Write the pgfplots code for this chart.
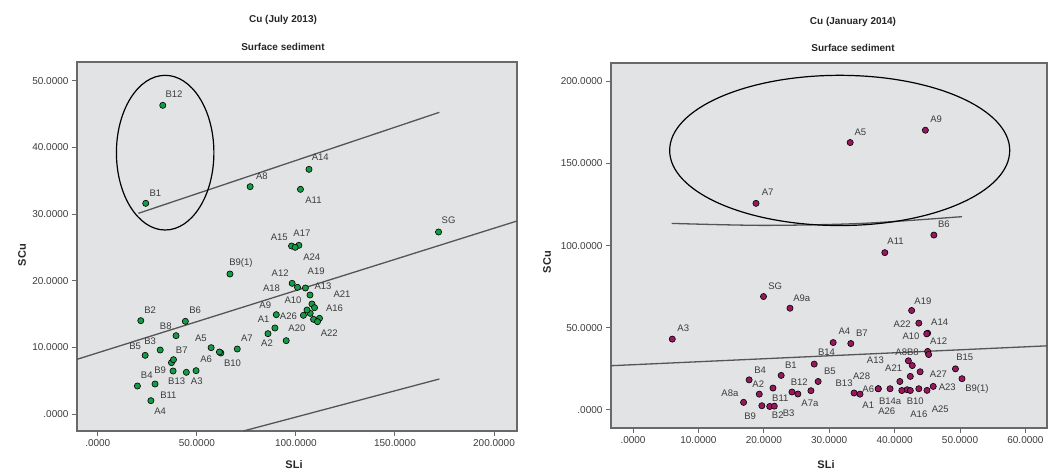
\documentclass[border=0pt]{standalone}
\usepackage{pgfplots}
\pgfplotsset{compat=1.18}
\usepackage{pgfplotstable}
\usepackage{fontspec}
\setmainfont{Liberation Sans}
\definecolor{bg}{RGB}{226,227,229}
\definecolor{frame}{RGB}{105,105,105}
\definecolor{reg}{RGB}{85,85,85}
\definecolor{ptgreen}{RGB}{20,155,70}
\definecolor{ptpurple}{RGB}{150,25,95}
\definecolor{lbl}{RGB}{60,60,60}

\pgfplotstableread{
x y label dx dy
32.8 46.3 B12 11.3 11
24.2 31.6 B1 9.7 10
76.9 34.1 A8 11.7 10.7
106.6 36.7 A14 11.3 12
102.3 33.7 A11 13 -10.7
172.0 27.3 SG 10 11.3
97.8 25.2 A15 -12.3 8.7
101.5 25.3 A17 3 12
99.6 25.0 A24 16.7 -10
66.7 21.0 B9(1) 11 11
98.1 19.6 A12 -12 10
100.8 19.0 A18 -26 -1
104.8 18.9 A19 10.7 17
107.1 17.85 A13 13 9
108.1 16.5 A21 30 10
109.4 15.95 A16 20 -0.7
105.6 15.6 A10 -14 10
103.8 14.8 A26 -15 -0.7
90.1 14.9 A9 -11 9.7
89.4 12.9 A1 -11.3 9
85.9 12.05 A2 -1 -9.7
95.1 11.0 A20 10.7 12
110.9 13.85 A22 11.7 -11.7
70.4 9.75 A7 9.7 10.7
62.1 9.15 B10 11.7 -10.3
61.4 9.3 A6 -13.3 -7
57.2 9.95 A5 -10.3 9.3
21.7 14.0 B2 9.3 10.7
44.2 13.9 B6 9.7 10.7
39.5 11.75 B8 -10.3 9
23.9 8.8 B5 -10 8.7
31.5 9.6 B3 -10 8.3
38.2 8.15 B7 8.3 9.7
38.0 6.45 B9 -13 0.3
44.7 6.25 B13 -9.7 -9.3
49.6 6.5 A3 0.7 -11
20.0 4.2 B4 9.3 11
28.9 4.5 B11 13.3 -11
26.8 2.0 A4 9.3 -11
}\leftdata

\pgfplotstableread{
x y label dx dy
18.8 125.7 A7 11.7 10.7
19.95 69.0 SG 11.7 10.7
33.2 162.7 A5 10.3 10.7
44.7 170.2 A9 10.7 10.7
46.0 106.4 B6 10 11
38.5 95.7 A11 10.7 11
24.0 61.9 A9a 11.7 10
42.6 60.5 A19 11.3 9
6.0 43.1 A3 11 11
43.7 52.8 A22 -16.7 -0.7
45.05 46.7 A14 12 10.7
44.9 46.3 A10 -15.7 -2.7
30.6 41.0 A4 11.3 11
33.3 40.4 B7 11 10.3
45.05 35.6 A12 11 10
45.2 33.7 A8B8 -21.6 2.5
27.7 27.9 B14 12.3 11.7
22.65 21.0 B1 9.7 10
17.75 18.3 B4 11 10
28.3 17.3 B5 11.7 10.7
19.3 9.6 A2 -1 10.3
21.4 13.3 B11 7.3 -10
24.3 10.9 B12 7.3 9.7
27.2 11.7 A7a -1 -12.3
16.9 4.6 A8a -13.7 9
19.7 2.55 B9 -11.7 -10.7
20.9 2.1 B2 8 -8.3
21.6 2.3 B3 14.4 -6.7
33.8 10.3 B13 -10 9.5
34.7 9.6 A1 8.3 -10.7
37.5 12.9 A28 -16.7 12.3
37.5 12.9 A6 -10 -1
39.3 12.9 A26 -3.3 -22.7
41.1 11.8 B14a -11.7 -11
42.4 11.8 B10 5 -11
43.7 12.9 A16 0 -26
44.95 11.9 A25 13.3 -19.3
45.9 14.3 A23 14 -0.7
42.4 20.4 A21 -16.7 8.3
43.9 23.2 A27 18.3 -2
42.1 29.9 A13 -33 0.7
49.3 25.0 B15 9.3 11.7
50.3 19.0 B9(1) 15 -10.3
}\rightdata

\pgfplotsset{
  spssaxis/.style={
    scale only axis, clip=false,
    axis background/.style={fill=bg},
    axis line style={frame, line width=1.2pt},
    tick pos=left, tick align=outside,
    major tick length=5pt,
    tick style={frame, line width=1pt},
    ticklabel style={font=\fontsize{10}{12}\selectfont, text=lbl},
  },
  lblnodes/.style={
    nodes near coords, point meta=explicit symbolic,
    visualization depends on={\thisrow{dx}\as\ldx},
    visualization depends on={\thisrow{dy}\as\ldy},
    every node near coord/.append style={anchor=center, xshift=\ldx, yshift=\ldy,
      font=\fontsize{9.5}{11}\selectfont, text=lbl, inner sep=0pt},
  },
}

\begin{document}
\begin{tikzpicture}
\path[use as bounding box] (0pt,0pt) rectangle (1048pt,475pt);

% Left panel
\begin{scope}[shift={(77pt,44pt)}]
\begin{axis}[spssaxis, at={(0pt,0pt)}, anchor=south west,
  width=440pt, height=369pt,
  xmin=-10.5, xmax=211.6, ymin=-2.55, ymax=52.8,
  xtick={0,50,100,150,200},
  xticklabels={.0000,50.0000,100.0000,150.0000,200.0000},
  ytick={0,10,20,30,40,50},
  yticklabels={.0000,10.0000,20.0000,30.0000,40.0000,50.0000}]
\addplot[reg, line width=1.3pt] coordinates {(-10.5,8.2) (211.6,28.95)};
\addplot[reg, line width=1.3pt] coordinates {(20.5,30.1) (172.4,45.25)};
\addplot[reg, line width=1.3pt] coordinates {(73.5,-2.55) (172.4,5.25)};
\draw[black, line width=1.2pt] (axis cs:34.0,39.2) ellipse [x radius=24.6, y radius=11.6];
\addplot[only marks, mark=*, mark size=3.1pt, mark options={fill=ptgreen, draw=black, line width=0.6pt}]
  coordinates {(107.2,15.1) (108.9,14.2) (111.9,14.35) (37.2,7.7)};
\addplot[only marks, mark=*, mark size=3.1pt, mark options={fill=ptgreen, draw=black, line width=0.6pt}, lblnodes]
  table[x=x, y=y, meta=label] {\leftdata};
\end{axis}
\end{scope}

% Right panel
\begin{scope}[shift={(611pt,47pt)}]
\begin{axis}[spssaxis, at={(0pt,0pt)}, anchor=south west,
  width=436pt, height=365pt,
  xmin=-3.37, xmax=63.3, ymin=-11, ymax=211.1,
  xtick={0,10,20,30,40,50,60},
  xticklabels={.0000,10.0000,20.0000,30.0000,40.0000,50.0000,60.0000},
  ytick={0,50,100,150,200},
  yticklabels={.0000,50.0000,100.0000,150.0000,200.0000}]
\addplot[reg, line width=1.3pt] coordinates {(-3.37,26.9) (63.3,39.0)};
\addplot[reg, line width=1.3pt, smooth] coordinates {(5.9,113.5) (20,112.3) (35,113.5) (50.3,117.6)};
\draw[black, line width=1.2pt] (axis cs:31.6,157.9) ellipse [x radius=26.0, y radius=45.7];
\addplot[only marks, mark=*, mark size=3.1pt, mark options={fill=ptpurple, draw=black, line width=0.6pt}]
  coordinates {(25.2,9.7) (40.8,17.3) (41.9,12.3) (42.7,27.0)};
\addplot[only marks, mark=*, mark size=3.1pt, mark options={fill=ptpurple, draw=black, line width=0.6pt}, lblnodes]
  table[x=x, y=y, meta=label] {\rightdata};
\end{axis}
\end{scope}

% Titles and axis names
\node[font=\bfseries\fontsize{10}{12}\selectfont, text=black!85] at (283pt,455pt) {Cu (July 2013)};
\node[font=\bfseries\fontsize{10}{12}\selectfont, text=black!85] at (283pt,428pt) {Surface sediment};
\node[font=\bfseries\fontsize{10}{12}\selectfont, text=black!85] at (853pt,453pt) {Cu (January 2014)};
\node[font=\bfseries\fontsize{10}{12}\selectfont, text=black!85] at (853pt,427pt) {Surface sediment};
\node[font=\bfseries\fontsize{11}{13}\selectfont, text=black!85, rotate=90] at (22pt,220pt) {SCu};
\node[font=\bfseries\fontsize{11}{13}\selectfont, text=black!85, rotate=90] at (547pt,213pt) {SCu};
\node[font=\bfseries\fontsize{11}{13}\selectfont, text=black!85] at (294pt,10pt) {SLi};
\node[font=\bfseries\fontsize{11}{13}\selectfont, text=black!85] at (826pt,10pt) {SLi};
\end{tikzpicture}
\end{document}
